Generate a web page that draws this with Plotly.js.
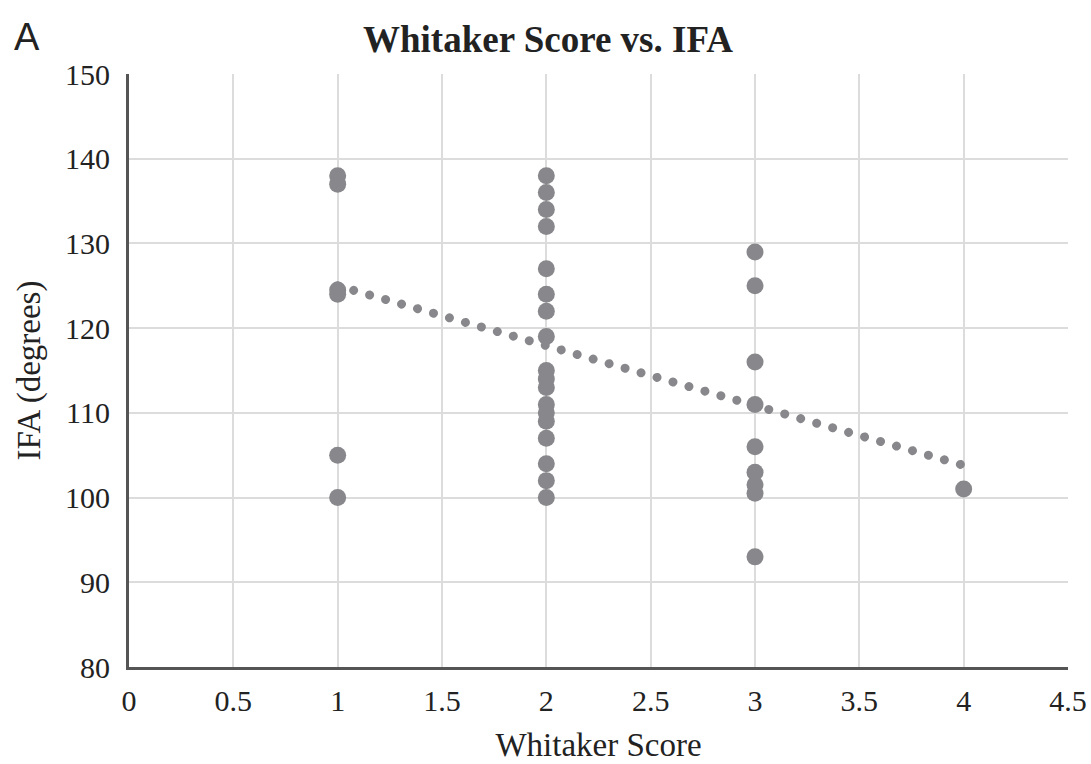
<!DOCTYPE html>
<html>
<head>
<meta charset="utf-8">
<script src="https://cdn.plot.ly/plotly-3.0.1.min.js"></script>
<style>html,body{margin:0;padding:0;background:#fff;}#chart{width:1091px;height:764px;}</style>
</head>
<body>
<div id="chart"></div>
<script>
// Observed data (Whitaker score vs IFA in degrees)
const score1 = [1, 1, 1, 1, 1, 1];
const ifa1 = [138, 137, 124.5, 124, 105, 100];
const score2 = [2, 2, 2, 2, 2, 2, 2, 2, 2, 2, 2, 2, 2, 2, 2, 2, 2, 2];
const ifa2 = [138, 136, 134, 132, 127, 124, 122, 119, 115, 114, 113, 111, 110, 109, 107, 104, 102, 100];
const score3 = [3, 3, 3, 3, 3, 3, 3, 3, 3];
const ifa3 = [129, 125, 116, 111, 106, 103, 101.5, 100.5, 93];
const score4 = [4];
const ifa4 = [101];
// Linear trendline endpoints
const trendX = [1, 4];
const trendY = [125, 103.8];

const xAll = [].concat(score1, score2, score3, score4);
const yAll = [].concat(ifa1, ifa2, ifa3, ifa4);

const grey = '#88888c';
const serif = '"Liberation Serif", "Times New Roman", serif';

const traces = [
  {x: trendX, y: trendY, type: 'scatter', mode: 'lines',
   line: {color: grey, width: 9, dash: '0.01px,16.6px'}, hoverinfo: 'skip', showlegend: false},
  {x: xAll, y: yAll, type: 'scatter', mode: 'markers',
   marker: {color: grey, size: 17}, showlegend: false}
];

const layout = {
  width: 1091, height: 764,
  margin: {l: 129, r: 23, t: 74, b: 97},
  paper_bgcolor: '#fff', plot_bgcolor: '#fff',
  font: {family: serif, color: '#222', size: 31},
  title: {text: '<b>Whitaker Score vs. IFA</b>', x: 548 / 1091, xref: 'container', xanchor: 'center',
          y: 1 - 39 / 764, yref: 'container', yanchor: 'middle',
          font: {family: serif, size: 37, color: '#222'}},
  xaxis: {range: [0, 4.5], dtick: 0.5, tick0: 0, showgrid: true, gridcolor: '#dcdcdc', gridwidth: 2,
          zeroline: false, showline: true, linecolor: '#555', linewidth: 3, ticks: '',
          ticklabelstandoff: 5, tickfont: {family: serif, size: 30, color: '#222'},
          title: {text: 'Whitaker Score', standoff: 17, font: {family: serif, size: 33, color: '#222'}}},
  yaxis: {range: [80, 150], dtick: 10, tick0: 80, showgrid: true, gridcolor: '#dcdcdc', gridwidth: 2,
          zeroline: false, showline: true, linecolor: '#555', linewidth: 3, ticks: '',
          ticklabelstandoff: 10, tickfont: {family: serif, size: 30, color: '#222'},
          title: {text: 'IFA (degrees)', standoff: 15, font: {family: serif, size: 33, color: '#222'}}},
  annotations: [{text: 'A', xref: 'paper', yref: 'paper', x: -0.125, y: (667 - 37) / 593, xanchor: 'left', yanchor: 'middle',
                 showarrow: false, font: {family: '"Liberation Sans", Arial, sans-serif', size: 38, color: '#222'}}]
};

Plotly.newPlot('chart', traces, layout, {staticPlot: true, displayModeBar: false}).then(function () {
  document.querySelectorAll('.scatterlayer .trace:first-child .js-line').forEach(function (p) {
    p.style.strokeLinecap = 'round';
  });
});
</script>
</body>
</html>
